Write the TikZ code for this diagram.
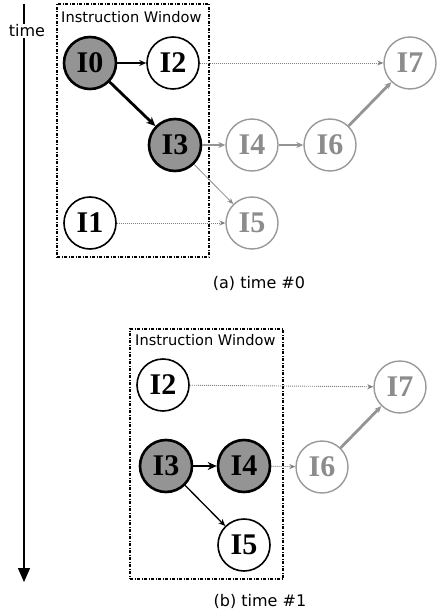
\documentclass[tikz,border=0pt]{standalone}
\usepackage{fontspec}
\setmainfont{Liberation Serif}
\newfontfamily\labfont{DejaVu Sans}
\usetikzlibrary{arrows.meta}
\begin{document}
\begin{tikzpicture}[x=1pt,y=-1pt,
  inst/.style={circle, minimum size=52pt, inner sep=0pt, font=\bfseries\fontsize{30}{30}\selectfont},
  cur/.style={inst, draw, line width=2.6pt, fill=black!42},
  rdy/.style={inst, draw, line width=1.6pt, fill=white},
  fut/.style={inst, draw=black!40, line width=1.4pt, text=black!45, fill=white},
  win/.style={draw, line width=1.1pt, dash pattern=on 3pt off 1.5pt on 1pt off 1.5pt},
  wintitle/.style={anchor=north west, inner sep=0pt, font=\labfont\fontsize{14.6}{15}\selectfont},
  caption/.style={font=\labfont\fontsize{16}{16}\selectfont},
  blk/.style={-{Stealth[length=7pt,width=6pt]}, line width=1.3pt},
  blkthick/.style={-{Stealth[length=9pt,width=8pt]}, line width=2.8pt},
  grythick/.style={-{Stealth[length=7pt,width=6pt]}, line width=2.2pt, draw=black!42},
  grythin/.style={-{Stealth[length=6pt,width=5pt]}, line width=0.8pt, draw=black!45},
  grydot/.style={-{Stealth[length=6pt,width=5pt]}, line width=0.9pt, draw=black!50, dash pattern=on 1pt off 1pt},
]
\useasboundingbox (0,0) rectangle (437,612);

% time axis
\coordinate (ttop) at (24,4);
\coordinate (tbot) at (24,582);
\draw[line width=1.4pt, -{Triangle[length=14pt,width=12pt]}] (ttop) -- (tbot);
\node[fill=white, inner sep=1pt, font=\labfont\fontsize{16}{16}\selectfont] (time) at (27,31) {time};

% ---------- (a) time #0 ----------
\node[win, minimum width=152pt, minimum height=253pt, inner sep=0pt] (wa) at (133,130.5) {};
\node[wintitle] (wat) at (61,11) {Instruction Window};

\node[cur] (a0) at (90,63) {I0};
\node[rdy] (a2) at (173,63) {I2};
\node[cur] (a3) at (175,145) {I3};
\node[fut] (a4) at (252,145) {I4};
\node[fut] (a6) at (330,145) {I6};
\node[fut] (a7) at (410,63) {I7};
\node[rdy] (a1) at (90,223) {I1};
\node[fut] (a5) at (252,223) {I5};

\draw[blk] (a0) -- (a2);
\draw[blkthick] (a0) -- (a3);
\draw[grydot] (a2) -- (a7);
\draw[grythick] (a3) -- (a4);
\draw[grythick] (a4) -- (a6);
\draw[grythick, line width=2.8pt] (a6) -- (a7);
\draw[grythin] (a3) -- (a5);
\draw[grydot] (a1) -- (a5);

\node[caption] (capa) at (259,283) {(a) time \#0};

% ---------- (b) time #1 ----------
\node[win, minimum width=153pt, minimum height=250pt, inner sep=0pt] (wb) at (206.5,454) {};
\node[wintitle] (wbt) at (135,334) {Instruction Window};

\node[rdy] (b2) at (163,385) {I2};
\node[fut] (b7) at (400,387) {I7};
\node[cur] (b3) at (166,466) {I3};
\node[cur] (b4) at (244,466) {I4};
\node[fut] (b6) at (322,467) {I6};
\node[rdy] (b5) at (244,545) {I5};

\draw[grydot] (b2) -- (b7);
\draw[blkthick] (b3) -- (b4);
\draw[blk] (b3) -- (b5);
\draw[grydot] (b4) -- (b6);
\draw[grythick, line width=2.8pt] (b6) -- (b7);

\node[caption] (capb) at (260,601) {(b) time \#1};
\end{tikzpicture}
\end{document}
